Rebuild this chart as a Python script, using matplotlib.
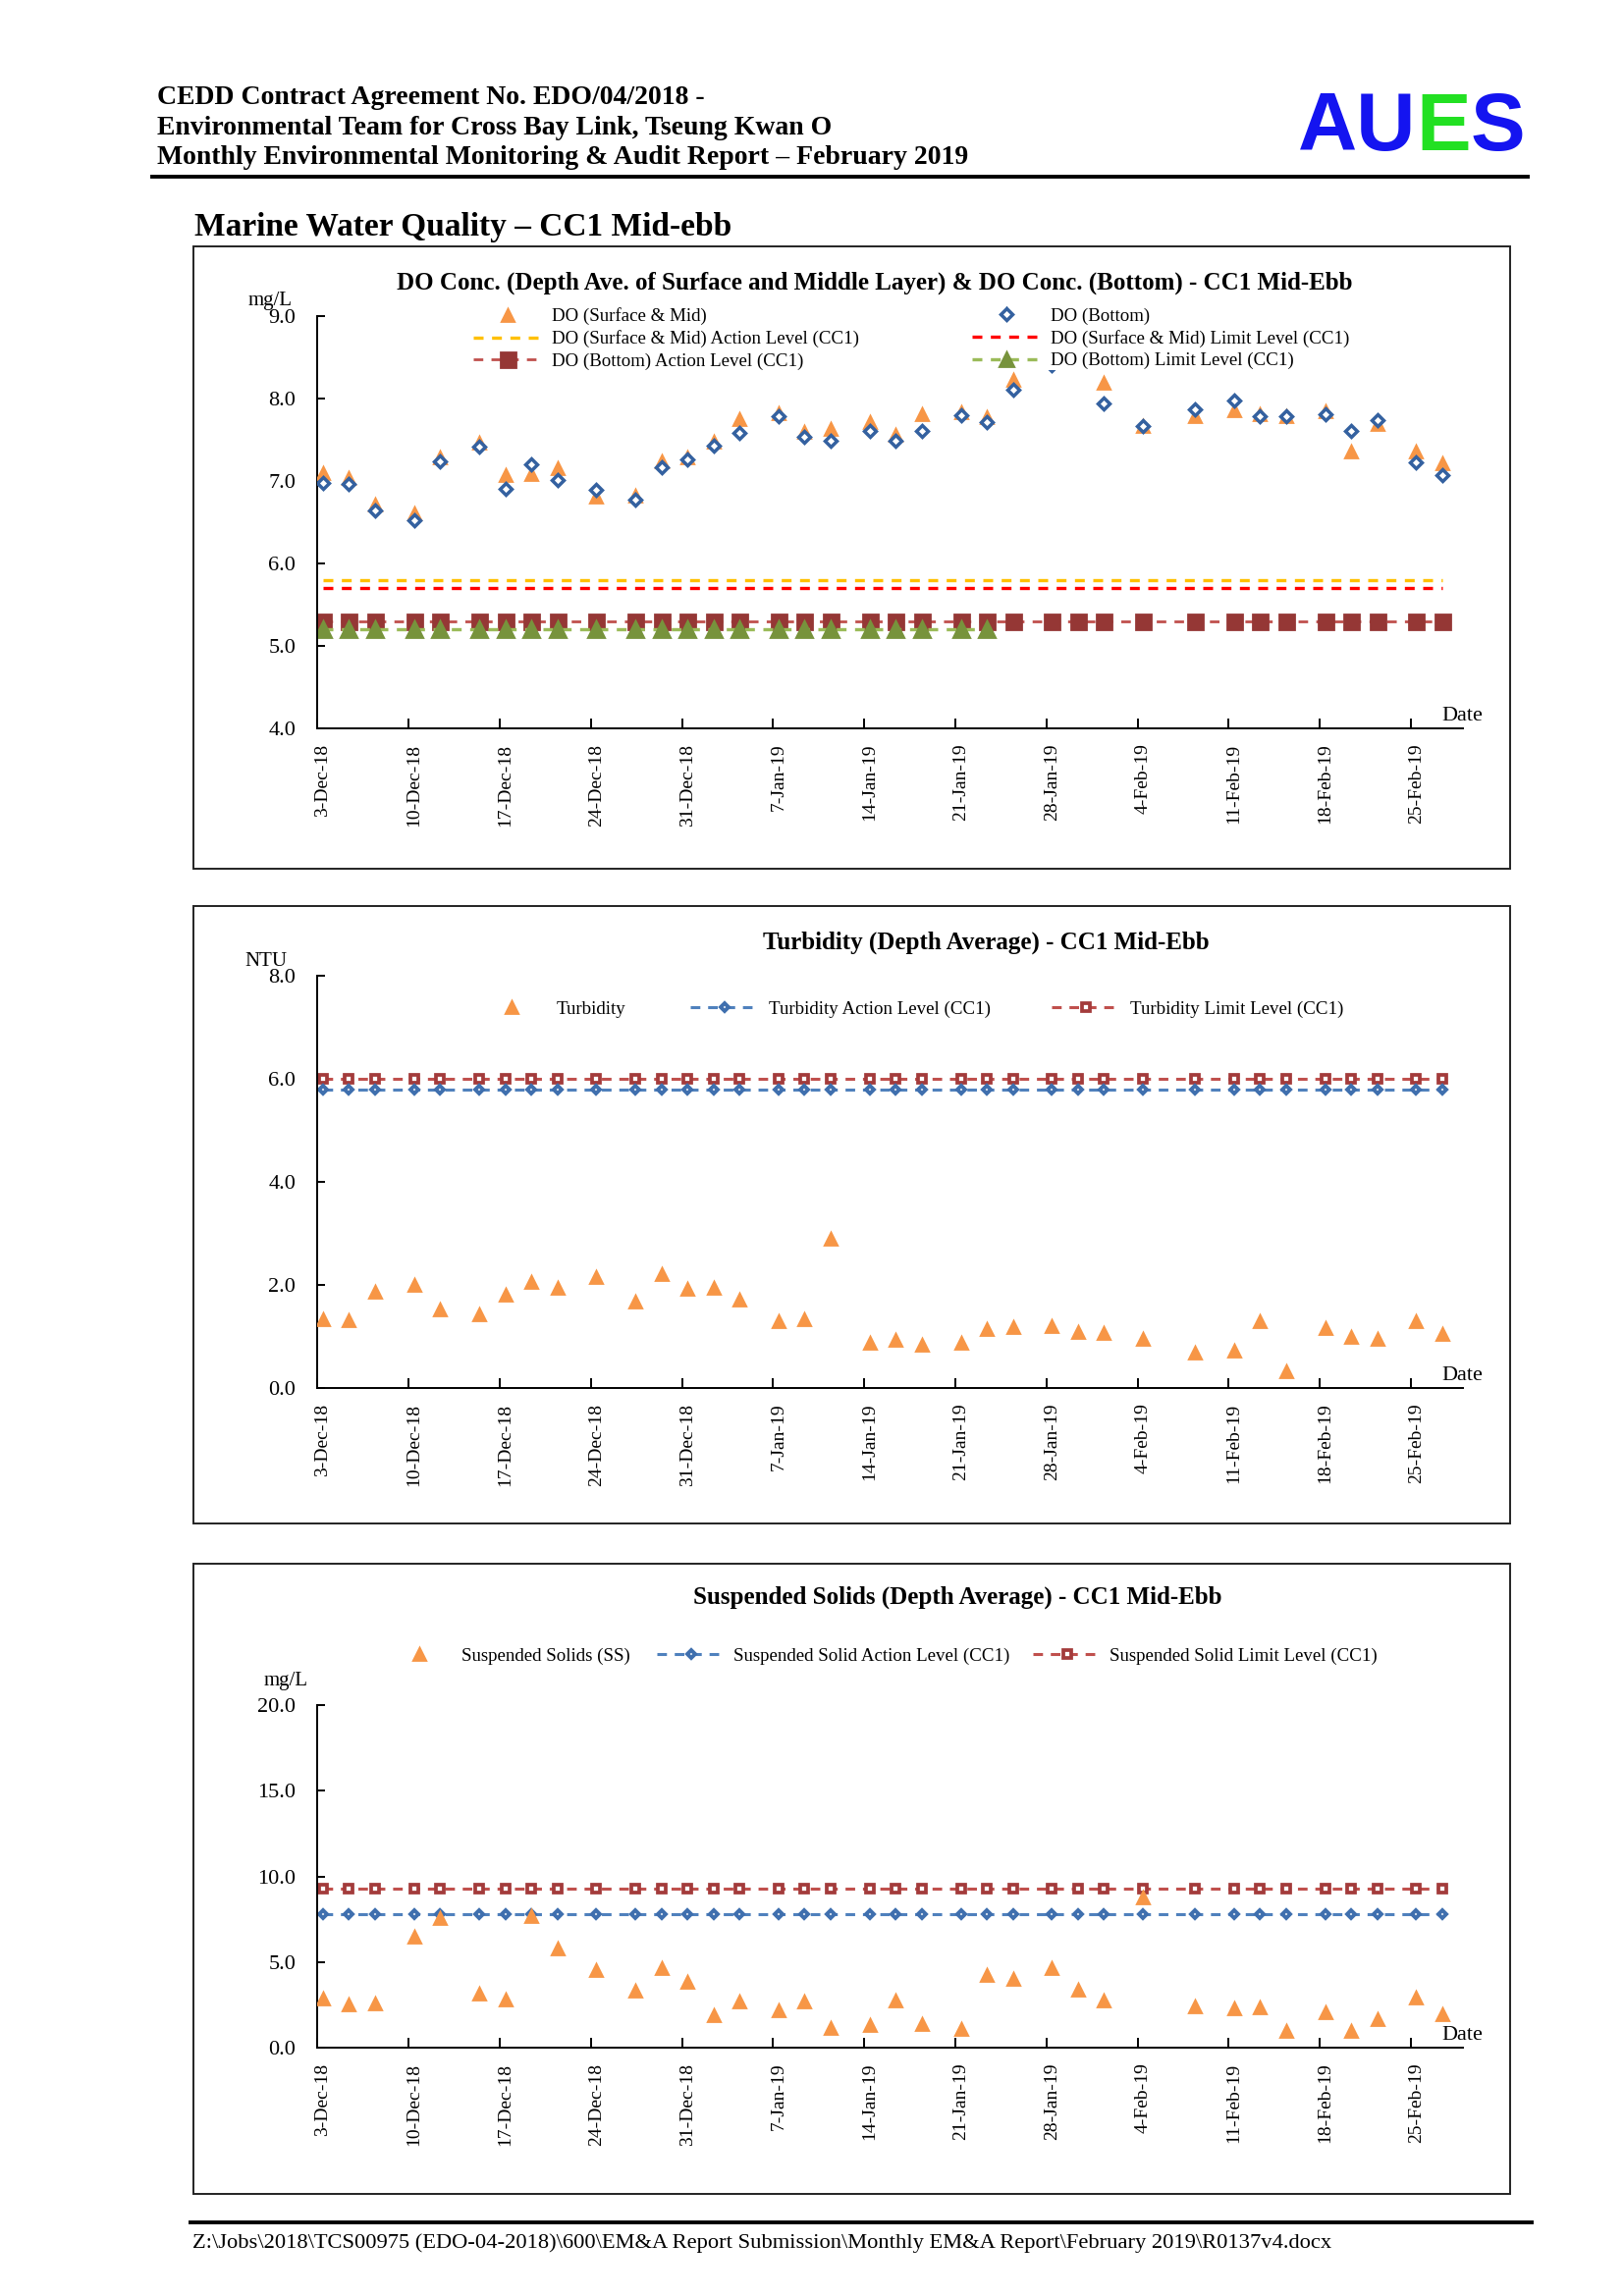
import numpy as np
import pandas as pd
import matplotlib
matplotlib.use("Agg")
import matplotlib.pyplot as plt
import matplotlib.dates as mdates
import matplotlib.transforms as mtransforms
from matplotlib.lines import Line2D
from matplotlib.patches import Rectangle

plt.rcParams['font.family'] = ['Liberation Serif', 'DejaVu Serif']

# ---------------- data ----------------
dates = ["2018-12-03", "2018-12-05", "2018-12-07", "2018-12-10", "2018-12-12", "2018-12-15",
         "2018-12-17", "2018-12-19", "2018-12-21", "2018-12-24", "2018-12-27", "2018-12-29",
         "2018-12-31", "2019-01-02", "2019-01-04", "2019-01-07", "2019-01-09", "2019-01-11",
         "2019-01-14", "2019-01-16", "2019-01-18", "2019-01-21", "2019-01-23", "2019-01-25",
         "2019-01-28", "2019-01-30", "2019-02-01", "2019-02-04", "2019-02-08", "2019-02-11",
         "2019-02-13", "2019-02-15", "2019-02-18", "2019-02-20", "2019-02-22", "2019-02-25",
         "2019-02-27"]
nan = np.nan
do_surface_mid = [7.09, 7.03, 6.71, 6.61, 7.29, 7.46, 7.07, 7.08, 7.15, 6.81, 6.82, 7.24, 7.28,
                  7.47, 7.75, 7.82, 7.59, 7.63, 7.71, 7.56, 7.81, 7.83, 7.77, 8.22, nan, nan,
                  8.19, 7.66, 7.78, 7.85, 7.81, 7.78, 7.84, 7.36, 7.69, 7.36, 7.21]
do_bottom = [6.98, 6.96, 6.64, 6.52, 7.24, 7.41, 6.90, 7.20, 7.01, 6.89, 6.77, 7.17, 7.26,
             7.43, 7.58, 7.78, 7.53, 7.49, 7.61, 7.49, 7.60, 7.80, 7.71, 8.10, 8.40, nan,
             7.94, 7.66, 7.87, 7.98, 7.78, 7.78, 7.81, 7.61, 7.74, 7.23, 7.07]
do_sm_action = 5.8
do_sm_limit = 5.7
do_bottom_action = 5.3
do_bottom_limit = 5.2
do_bottom_limit_last = "2019-01-23"

turbidity = [1.33, 1.31, 1.88, 2.01, 1.52, 1.43, 1.81, 2.06, 1.94, 2.16, 1.68, 2.22, 1.92,
             1.94, 1.71, 1.30, 1.33, 2.90, 0.89, 0.93, 0.84, 0.89, 1.15, 1.19, 1.20, 1.10,
             1.08, 0.96, 0.69, 0.73, 1.30, 0.32, 1.17, 1.00, 0.96, 1.30, 1.06]
turb_action = 5.8
turb_limit = 6.0

ss = [2.88, 2.56, 2.58, 6.47, 7.56, 3.19, 2.81, 7.69, 5.80, 4.56, 3.36, 4.64, 3.87,
      1.93, 2.71, 2.21, 2.71, 1.18, 1.32, 2.75, 1.39, 1.11, 4.26, 4.01, 4.66, 3.42,
      2.75, 8.76, 2.40, 2.29, 2.35, 1.01, 2.06, 1.01, 1.70, 2.92, 1.95]
ss_action = 7.8
ss_limit = 9.3

x_start = "2018-12-03"
x_end = "2019-03-01"

# ---------------- layout helpers ----------------
W, H = 1654, 2339
DPI = 200
fig = plt.figure(figsize=(W / DPI, H / DPI), dpi=DPI)


def fx(x):
    return x / W


def fy(y):
    return 1 - y / H


AX_L, AX_R = 323.4, 1490.0
BOX_L, BOX_R = 197, 1538


def add_ax(top, bottom):
    return fig.add_axes([fx(AX_L), fy(bottom), (AX_R - AX_L) / W, (bottom - top) / H])


x = pd.to_datetime(dates) + pd.Timedelta(hours=10)
xd = pd.to_datetime(dates)
ticks = pd.date_range(x_start, periods=13, freq="7D")

ORANGE = "#F79646"
TICKFS = 8
LEGFS = 6.8
TITLEFS = 9.0


def style_axes(ax, ylo, yhi, ystep):
    ax.set_xlim(pd.Timestamp(x_start), pd.Timestamp(x_end))
    ax.set_ylim(ylo, yhi)
    ax.set_yticks(np.arange(ylo, yhi + 0.001, ystep))
    ax.yaxis.set_major_formatter(matplotlib.ticker.FormatStrFormatter('%.1f'))
    ax.set_xticks(ticks)
    ax.xaxis.set_major_formatter(mdates.DateFormatter('%-d-%b-%y'))
    for s in ['top', 'right']:
        ax.spines[s].set_visible(False)
    for s in ['left', 'bottom']:
        ax.spines[s].set_linewidth(0.7)
    ax.tick_params(axis='y', direction='in', length=3, width=0.7, pad=8, labelsize=TICKFS)
    ax.tick_params(axis='x', direction='in', length=3.5, width=0.7, pad=5.5, labelsize=7,
                   labelrotation=90)
    shift = mtransforms.ScaledTranslation(2.0 / 72, 0, fig.dpi_scale_trans)
    for lab in ax.get_xticklabels():
        lab.set_va('top')
        lab.set_ha('center')
        lab.set_transform(lab.get_transform() + shift)
    ax.patch.set_alpha(0)


def legend_at(ax, handles, labels, xpx, ypx, hl=3.7, pad=0.55):
    leg = ax.legend(handles, labels, loc='center left',
                    bbox_to_anchor=(fx(xpx), fy(ypx)), bbox_transform=fig.transFigure,
                    frameon=True, facecolor='white', edgecolor='none', framealpha=1,
                    fontsize=LEGFS, borderpad=0.05, borderaxespad=0, handlelength=hl,
                    handletextpad=pad, labelspacing=0.27, numpoints=1, fancybox=False)
    leg.set_zorder(10)
    ax.add_artist(leg)
    return leg


def box(top, bottom):
    fig.patches.append(Rectangle((fx(BOX_L), fy(bottom)), (BOX_R - BOX_L) / W,
                                 (bottom - top) / H, transform=fig.transFigure, fill=False,
                                 lw=0.7, edgecolor='#222222'))


# ---------------- header ----------------
hdr = dict(fontsize=10, fontweight='bold', ha='left', va='baseline')
fig.text(fx(160), fy(106), "CEDD Contract Agreement No. EDO/04/2018 -", **hdr)
fig.text(fx(160), fy(137), "Environmental Team for Cross Bay Link, Tseung Kwan O", **hdr)
fig.text(fx(160), fy(167), "Monthly Environmental Monitoring & Audit Report \u2013 February 2019", **hdr)
fig.add_artist(Line2D([fx(155), fx(1556)], [fy(180), fy(180)], transform=fig.transFigure,
                      color='black', lw=1.4))

logo_kw = dict(fontsize=30, fontweight='bold', family='Liberation Sans', ha='left',
               va='baseline')
r = fig.canvas.get_renderer()
LOGO_X = 1322
probe = fig.text(fx(LOGO_X), fy(153), "AU", **logo_kw)
w_au = probe.get_window_extent(r).width
probe.set_text("AUE")
w_aue = probe.get_window_extent(r).width
probe.remove()
fig.text(fx(LOGO_X), fy(153), "AU", color='#1414F0', **logo_kw)
fig.text(fx(LOGO_X) + w_au / W, fy(153), "E", color='#22E022', **logo_kw)
fig.text(fx(LOGO_X) + w_aue / W, fy(153), "S", color='#1414F0', **logo_kw)

fig.text(fx(198), fy(240), "Marine Water Quality \u2013 CC1 Mid-ebb", fontsize=12,
         fontweight='bold', ha='left', va='baseline')

# ---------------- chart 1: DO ----------------
box(251, 885)
ax1 = add_ax(321.7, 742.3)
style_axes(ax1, 4.0, 9.0, 1.0)
lim_mask = xd <= pd.Timestamp(do_bottom_limit_last)
ax1.plot(x, [do_sm_action] * len(x), color='#FFC000', lw=1.2, ls=(0, (3, 2.6)), zorder=2)
ax1.plot(x, [do_sm_limit] * len(x), color='#FF0000', lw=1.2, ls=(0, (3, 2.6)), zorder=2)
ax1.plot(x, [do_bottom_action] * len(x), color='#C0504D', lw=1.0, ls=(0, (3.5, 3)),
         marker='s', ms=5.4, mfc='#953735', mec='#953735', zorder=2)
ax1.plot(x[lim_mask], [do_bottom_limit] * int(lim_mask.sum()), color='#9BBB59', lw=1.2,
         ls=(0, (3, 2.6)), marker='^', ms=5.8, mfc='#77933C', mec='#77933C', zorder=2)
ax1.plot(x, do_surface_mid, ls='none', marker='^', ms=4.4, mfc=ORANGE, mec=ORANGE, zorder=3)
ax1.plot(x, do_bottom, ls='none', marker='D', ms=2.9, mfc='white', mec='#3461A0', mew=1.25,
         zorder=4)

h_tri = Line2D([], [], ls='none', marker='^', ms=4.4, mfc=ORANGE, mec=ORANGE)
h_yel = Line2D([], [], color='#FFC000', lw=1.2, ls=(0, (3, 2.6)))
h_bsq = Line2D([], [], color='#C0504D', lw=1.0, ls=(0, (3.5, 3)), marker='s', ms=5.4,
               mfc='#953735', mec='#953735')
h_dia = Line2D([], [], ls='none', marker='D', ms=2.9, mfc='white', mec='#3461A0', mew=1.25)
h_red = Line2D([], [], color='#FF0000', lw=1.2, ls=(0, (3, 2.6)))
h_grn = Line2D([], [], color='#9BBB59', lw=1.2, ls=(0, (3, 2.6)), marker='^', ms=5.0,
               mfc='#77933C', mec='#77933C')
legend_at(ax1, [h_tri, h_yel, h_bsq],
          ["DO (Surface & Mid)", "DO (Surface & Mid) Action Level (CC1)",
           "DO (Bottom) Action Level (CC1)"], 481, 345)
legend_at(ax1, [h_dia, h_red, h_grn],
          ["DO (Bottom)", "DO (Surface & Mid) Limit Level (CC1)",
           "DO (Bottom) Limit Level (CC1)"], 989, 345)

fig.text(fx(891), fy(288),
         "DO Conc. (Depth Ave. of Surface and Middle Layer) & DO Conc. (Bottom) - CC1 Mid-Ebb",
         fontsize=TITLEFS, fontweight='bold', ha='center', va='center')
fig.text(fx(298), fy(306), "mg/L", fontsize=7.5, ha='right', va='center')
fig.text(fx(1510), fy(734), "Date", fontsize=8, ha='right', va='baseline')

# ---------------- chart 2: Turbidity ----------------
BLUE_L = '#4F81BD'
BLUE_M = '#3F6FAE'
RED_L = '#C0504D'
RED_M = '#A33B3B'
lvl_sq = dict(marker='s', ms=2.6, mfc='white', mec=RED_M, mew=1.35)
lvl_di = dict(marker='D', ms=2.2, mfc='white', mec=BLUE_M, mew=1.4)
box(923, 1552)
ax2 = add_ax(994, 1414.3)
style_axes(ax2, 0.0, 8.0, 2.0)
ax2.plot(x, [turb_limit] * len(x), color=RED_L, lw=1.1, ls=(0, (3.2, 2.6)), zorder=2, **lvl_sq)
ax2.plot(x, [turb_action] * len(x), color=BLUE_L, lw=1.1, ls=(0, (3.2, 2.6)), zorder=2, **lvl_di)
ax2.plot(x, turbidity, ls='none', marker='^', ms=4.3, mfc=ORANGE, mec=ORANGE, zorder=3)

t_tri = Line2D([], [], ls='none', marker='^', ms=4.3, mfc=ORANGE, mec=ORANGE)
t_act = Line2D([], [], color=BLUE_L, lw=1.1, ls=(0, (3.2, 2.6)), **lvl_di)
t_lim = Line2D([], [], color=RED_L, lw=1.1, ls=(0, (3.2, 2.6)), **lvl_sq)
legend_at(ax2, [t_tri], ["Turbidity"], 485, 1028)
legend_at(ax2, [t_act], ["Turbidity Action Level (CC1)"], 702, 1028)
legend_at(ax2, [t_lim], ["Turbidity Limit Level (CC1)"], 1070, 1028)

fig.text(fx(1004), fy(960), "Turbidity (Depth Average) - CC1 Mid-Ebb", fontsize=TITLEFS,
         fontweight='bold', ha='center', va='center')
fig.text(fx(293), fy(979), "NTU", fontsize=7.5, ha='right', va='center')
fig.text(fx(1510), fy(1406), "Date", fontsize=8, ha='right', va='baseline')

# ---------------- chart 3: Suspended Solids ----------------
box(1593, 2235)
ax3 = add_ax(1737, 2086.3)
style_axes(ax3, 0.0, 20.0, 5.0)
ax3.plot(x, [ss_limit] * len(x), color=RED_L, lw=1.1, ls=(0, (3.2, 2.6)), zorder=2, **lvl_sq)
ax3.plot(x, [ss_action] * len(x), color=BLUE_L, lw=1.1, ls=(0, (3.2, 2.6)), zorder=2, **lvl_di)
ax3.plot(x, ss, ls='none', marker='^', ms=4.3, mfc=ORANGE, mec=ORANGE, zorder=3)

legend_at(ax3, [t_tri], ["Suspended Solids (SS)"], 391, 1687, pad=0.45)
legend_at(ax3, [t_act], ["Suspended Solid Action Level (CC1)"], 668, 1687, pad=0.45)
legend_at(ax3, [t_lim], ["Suspended Solid Limit Level (CC1)"], 1051, 1687, pad=0.45)

fig.text(fx(975), fy(1627), "Suspended Solids (Depth Average) - CC1 Mid-Ebb",
         fontsize=TITLEFS, fontweight='bold', ha='center', va='center')
fig.text(fx(314), fy(1712), "mg/L", fontsize=7.5, ha='right', va='center')
fig.text(fx(1510), fy(2078), "Date", fontsize=8, ha='right', va='baseline')

# ---------------- footer ----------------
fig.add_artist(Line2D([fx(194), fx(1560)], [fy(2264), fy(2264)], transform=fig.transFigure,
                      color='black', lw=1.4))
fig.text(fx(196), fy(2285),
         r"Z:\Jobs\2018\TCS00975 (EDO-04-2018)\600\EM&A Report Submission\Monthly EM&A Report\February 2019\R0137v4.docx",
         fontsize=8.1, ha='left', va='center')

fig.savefig("out.png", dpi=DPI, facecolor='white')
